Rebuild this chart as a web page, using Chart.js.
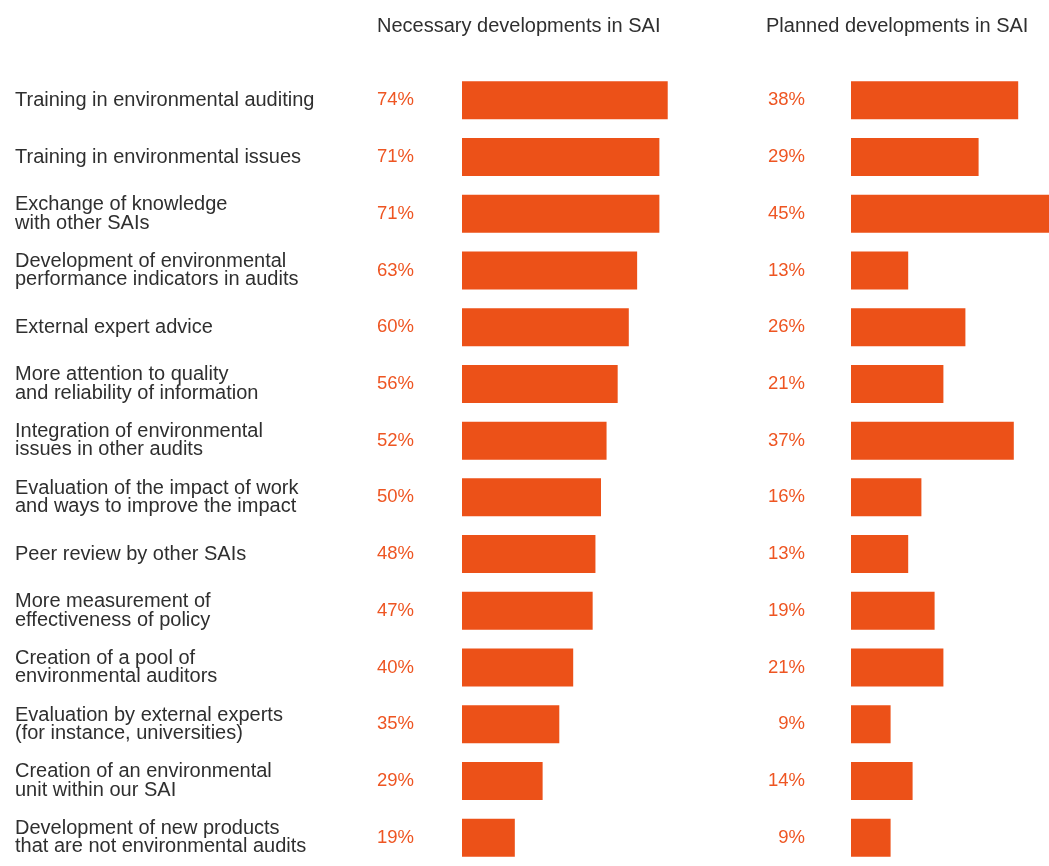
<!DOCTYPE html>
<html>
<head>
<meta charset="utf-8">
<script src="https://cdn.jsdelivr.net/npm/chart.js@4.4.1/dist/chart.umd.min.js"></script>
<style>
  html, body { margin: 0; padding: 0; background: #ffffff; }
  #wrap { position: relative; width: 1049px; height: 866px; overflow: hidden; }
  #c1 { position: absolute; left: 0; top: 0; }
  #c2 { position: absolute; left: 740px; top: 0; }
</style>
</head>
<body>
<div id="wrap">
  <canvas id="c1" width="740" height="866"></canvas>
  <canvas id="c2" width="309" height="866"></canvas>
</div>
<script>
// Survey items (multi-line where the label wraps)
const categories = [
  "Training in environmental auditing",
  "Training in environmental issues",
  ["Exchange of knowledge", "with other SAIs"],
  ["Development of environmental", "performance indicators in audits"],
  "External expert advice",
  ["More attention to quality", "and reliability of information"],
  ["Integration of environmental", "issues in other audits"],
  ["Evaluation of the impact of work", "and ways to improve the impact"],
  "Peer review by other SAIs",
  ["More measurement of", "effectiveness of policy"],
  ["Creation of a pool of", "environmental auditors"],
  ["Evaluation by external experts", "(for instance, universities)"],
  ["Creation of an environmental", "unit within our SAI"],
  ["Development of new products", "that are not environmental audits"]
];

// Share of respondents (%)
const necessaryValues = [74, 71, 71, 63, 60, 56, 52, 50, 48, 47, 40, 35, 29, 19];
const plannedValues   = [38, 29, 45, 13, 26, 21, 37, 16, 13, 19, 21, 9, 14, 9];

const panelTitles = ["Necessary developments in SAI", "Planned developments in SAI"];

const FONT = "'Liberation Sans', Arial, Helvetica, sans-serif";
const BAR_COLOR = "#EC5118";
const VALUE_COLOR = "#EE5522";
const TEXT_COLOR = "#2f2f2f";

// Draws the panel heading and the percentage next to each bar
const panelTextPlugin = {
  id: "panelText",
  afterDatasetsDraw(chart, args, opts) {
    const ctx = chart.ctx;
    ctx.save();
    ctx.fillStyle = TEXT_COLOR;
    ctx.font = "20px " + FONT;
    ctx.textAlign = "left";
    ctx.textBaseline = "alphabetic";
    ctx.fillText(opts.title, opts.titleX, 32);

    const meta = chart.getDatasetMeta(0);
    const values = chart.data.datasets[0].data;
    ctx.fillStyle = VALUE_COLOR;
    ctx.font = "18.5px " + FONT;
    ctx.textAlign = "right";
    ctx.textBaseline = "middle";
    meta.data.forEach((bar, i) => {
      ctx.fillText(values[i] + "%", opts.valueX, bar.y);
    });
    ctx.restore();
  }
};

function makePanel(canvasId, values, xMax, opts) {
  return new Chart(document.getElementById(canvasId), {
    type: "bar",
    data: {
      labels: categories,
      datasets: [{
        data: values,
        backgroundColor: BAR_COLOR,
        borderWidth: 0,
        barPercentage: 0.67,
        categoryPercentage: 1.0
      }]
    },
    options: {
      indexAxis: "y",
      responsive: false,
      animation: false,
      events: [],
      layout: { padding: { left: opts.padLeft, top: 72, right: 0, bottom: 0 } },
      plugins: {
        legend: { display: false },
        tooltip: { enabled: false },
        panelText: { title: opts.title, titleX: opts.titleX, valueX: opts.valueX }
      },
      scales: {
        x: { display: false, min: 0, max: xMax },
        y: opts.showLabels ? {
          grid: { display: false },
          border: { display: false },
          ticks: {
            autoSkip: false,
            crossAlign: "far",
            padding: 0,
            color: TEXT_COLOR,
            font: { family: FONT, size: 20, lineHeight: 0.92 }
          },
          afterFit(scale) {
            scale.width = 447;
            // keep both panels on the same row grid
            scale.paddingTop = 0;
            scale.paddingBottom = 0;
          }
        } : { display: false }
      }
    },
    plugins: [panelTextPlugin]
  });
}

makePanel("c1", necessaryValues, 100, {
  padLeft: 15, showLabels: true, title: panelTitles[0], titleX: 377, valueX: 414
});
makePanel("c2", plannedValues, 45, {
  padLeft: 111, showLabels: false, title: panelTitles[1], titleX: 26, valueX: 65
});
</script>
</body>
</html>
